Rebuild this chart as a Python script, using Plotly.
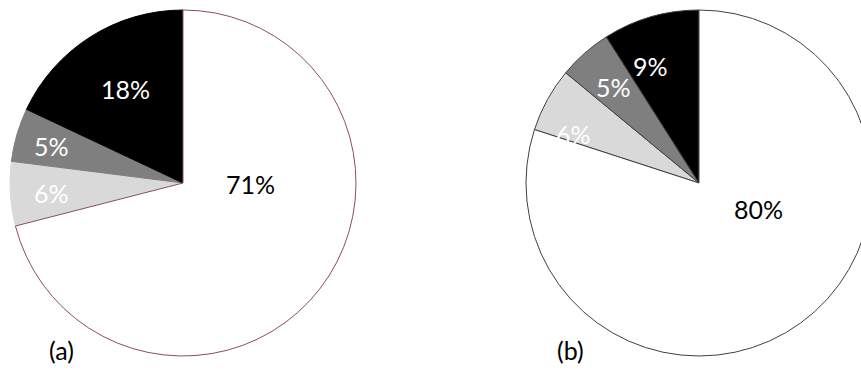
import plotly.graph_objects as go

# Data (clockwise order, starting from lower-left edge of the light grey slice)
categories = ["Light grey", "Dark grey", "Black", "White"]
values_a = [6, 5, 18, 71]
values_b = [6, 5, 9, 80]
panel_labels = ["(a)", "(b)"]

# Styles / layout (pixels)
W, H = 880, 378
colors = ["#d9d9d9", "#7f7f7f", "#000000", "#ffffff"]
text_colors = ["#ffffff", "#ffffff", "#ffffff", "#000000"]
line_a = ["#d9d9d9", "#7f7f7f", "#000000", "#8E4A6E"]
line_b = "#404040"
pie_a_px = (10, 356)
pie_b_px = (526, 872)
pie_y_px = (10, 356)
label_pos_a = [(51, 193), (51, 146), (125, 89), (250, 184)]
label_pos_b = [(573, 134), (613, 87), (650, 66), (758, 209)]
panel_pos = [(62, 350), (570, 350)]
FONT = "Lato"


def px_x(p):
    return p / W


def px_y(p):
    return 1 - p / H


def start_rotation(vals):
    # white slice ends at 12 o'clock -> first slice starts before it
    return -360.0 * sum(vals[:-1]) / sum(vals)


fig = go.Figure()
ydom = [px_y(pie_y_px[1]), px_y(pie_y_px[0])]

fig.add_trace(go.Pie(
    labels=categories, values=values_a, sort=False, direction="clockwise",
    rotation=start_rotation(values_a), textinfo="none", hoverinfo="skip",
    showlegend=False,
    marker=dict(colors=colors, line=dict(color=line_a, width=1)),
    domain=dict(x=[px_x(pie_a_px[0]), px_x(pie_a_px[1])], y=ydom),
))
fig.add_trace(go.Pie(
    labels=categories, values=values_b, sort=False, direction="clockwise",
    rotation=start_rotation(values_b), textinfo="none", hoverinfo="skip",
    showlegend=False,
    marker=dict(colors=colors, line=dict(color=line_b, width=1)),
    domain=dict(x=[px_x(pie_b_px[0]), px_x(pie_b_px[1])], y=ydom),
))

annotations = []
for vals, poss in ((values_a, label_pos_a), (values_b, label_pos_b)):
    for v, (x, y), tc in zip(vals, poss, text_colors):
        annotations.append(dict(
            text=f"{v}%", x=px_x(x), y=px_y(y), xref="paper", yref="paper",
            showarrow=False, xanchor="center", yanchor="middle",
            font=dict(family=FONT, size=25, color=tc),
        ))
for t, (x, y) in zip(panel_labels, panel_pos):
    annotations.append(dict(
        text=t, x=px_x(x), y=px_y(y), xref="paper", yref="paper",
        showarrow=False, xanchor="center", yanchor="middle",
        font=dict(family=FONT, size=25, color="#000000"),
    ))

fig.update_layout(
    width=W, height=H, margin=dict(l=0, r=0, t=0, b=0),
    paper_bgcolor="white", plot_bgcolor="white",
    annotations=annotations,
)

fig.write_html(
    "out.html",
    config={"displayModeBar": False},
    post_script="document.documentElement.style.overflow='hidden';document.body.style.overflow='hidden';",
)
